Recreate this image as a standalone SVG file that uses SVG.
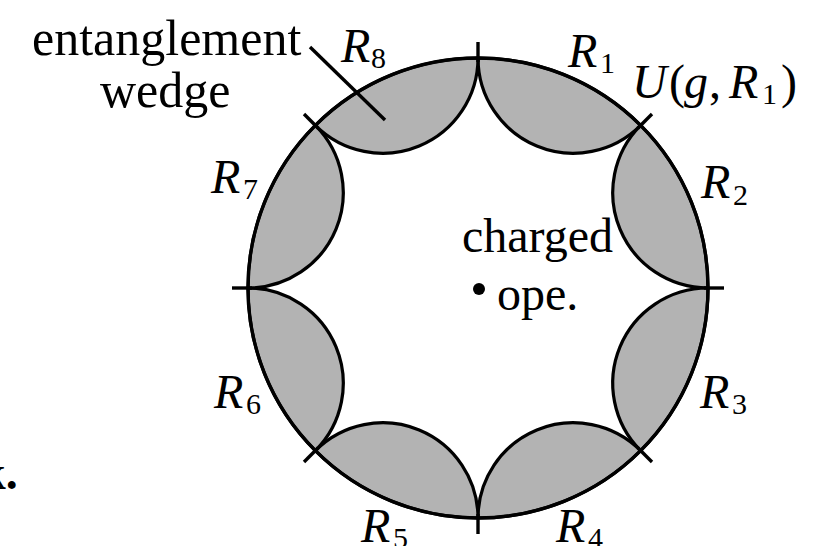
<svg xmlns="http://www.w3.org/2000/svg" width="822" height="546" viewBox="0 0 822 546">
<style>
.lobe{fill:#b3b3b3;stroke:#000;stroke-width:3.2;stroke-linejoin:round}
.bnd{fill:none;stroke:#000;stroke-width:3.4}
.tick{stroke:#000;stroke-width:3.4;fill:none}
.t{font-family:"Liberation Serif","Times New Roman",serif;fill:#000}
.it{font-style:italic}
.sub{font-size:30px;font-style:normal}
</style>
<rect width="822" height="546" fill="#fff"/>
<g id="wedges">
<path id="wedge-R1" class="lobe" d="M478,58 A230,230 0 0 1 640.63,125.37 A95.27,95.27 0 0 1 478,58 Z"/>
<path id="wedge-R2" class="lobe" d="M640.63,125.37 A230,230 0 0 1 708,288 A95.27,95.27 0 0 1 640.63,125.37 Z"/>
<path id="wedge-R3" class="lobe" d="M708,288 A230,230 0 0 1 640.63,450.63 A95.27,95.27 0 0 1 708,288 Z"/>
<path id="wedge-R4" class="lobe" d="M640.63,450.63 A230,230 0 0 1 478,518 A95.27,95.27 0 0 1 640.63,450.63 Z"/>
<path id="wedge-R5" class="lobe" d="M478,518 A230,230 0 0 1 315.37,450.63 A95.27,95.27 0 0 1 478,518 Z"/>
<path id="wedge-R6" class="lobe" d="M315.37,450.63 A230,230 0 0 1 248,288 A95.27,95.27 0 0 1 315.37,450.63 Z"/>
<path id="wedge-R7" class="lobe" d="M248,288 A230,230 0 0 1 315.37,125.37 A95.27,95.27 0 0 1 248,288 Z"/>
<path id="wedge-R8" class="lobe" d="M315.37,125.37 A230,230 0 0 1 478,58 A95.27,95.27 0 0 1 315.37,125.37 Z"/>
</g>
<g id="boundary">
<circle class="bnd" cx="478" cy="288" r="230"/>
</g>
<g id="connectors">
<line class="tick" x1="478" y1="62" x2="478" y2="42"/>
<line class="tick" x1="637.8" y1="128.2" x2="652.0" y2="114.0"/>
<line class="tick" x1="704" y1="288" x2="724" y2="288"/>
<line class="tick" x1="637.8" y1="447.8" x2="652.0" y2="462.0"/>
<line class="tick" x1="478" y1="514" x2="478" y2="534"/>
<line class="tick" x1="318.2" y1="447.8" x2="304.0" y2="462.0"/>
<line class="tick" x1="252" y1="288" x2="232" y2="288"/>
<line class="tick" x1="318.2" y1="128.2" x2="304.0" y2="114.0"/>
<line id="leader" class="tick" x1="310" y1="47" x2="385" y2="120"/>
</g>
<g id="charged-operator">
<circle cx="479" cy="289" r="6" fill="#000"/>
<text class="t" x="462" y="252" font-size="48">charged</text>
<text class="t" x="497" y="310" font-size="48">ope.</text>
</g>
<g id="label-ew">
<text class="t" x="32" y="55" font-size="50">entanglement</text>
<text class="t" x="100" y="107" font-size="50">wedge</text>
</g>
<text class="t" x="-21" y="489" font-size="48" font-weight="bold">k.</text>
<g id="labels" class="t" font-size="48">
<text x="341" y="62"><tspan class="it">R</tspan><tspan class="sub" x="371" y="68">8</tspan></text>
<text x="568" y="67"><tspan class="it">R</tspan><tspan class="sub" x="600" y="73">1</tspan></text>
<text x="632" y="98"><tspan class="it">U</tspan><tspan x="669">(</tspan><tspan class="it" x="684">g</tspan><tspan x="709">,</tspan><tspan class="it" x="729">R</tspan><tspan class="sub" x="762" y="104">1</tspan><tspan x="781" y="98">)</tspan></text>
<text x="701" y="198"><tspan class="it">R</tspan><tspan class="sub" x="733" y="205">2</tspan></text>
<text x="700" y="408"><tspan class="it">R</tspan><tspan class="sub" x="732" y="414">3</tspan></text>
<text x="556" y="542"><tspan class="it">R</tspan><tspan class="sub" x="588" y="548">4</tspan></text>
<text x="361" y="542"><tspan class="it">R</tspan><tspan class="sub" x="393" y="548">5</tspan></text>
<text x="214" y="408"><tspan class="it">R</tspan><tspan class="sub" x="246" y="414">6</tspan></text>
<text x="211" y="193"><tspan class="it">R</tspan><tspan class="sub" x="243" y="199">7</tspan></text>
</g>
</svg>
